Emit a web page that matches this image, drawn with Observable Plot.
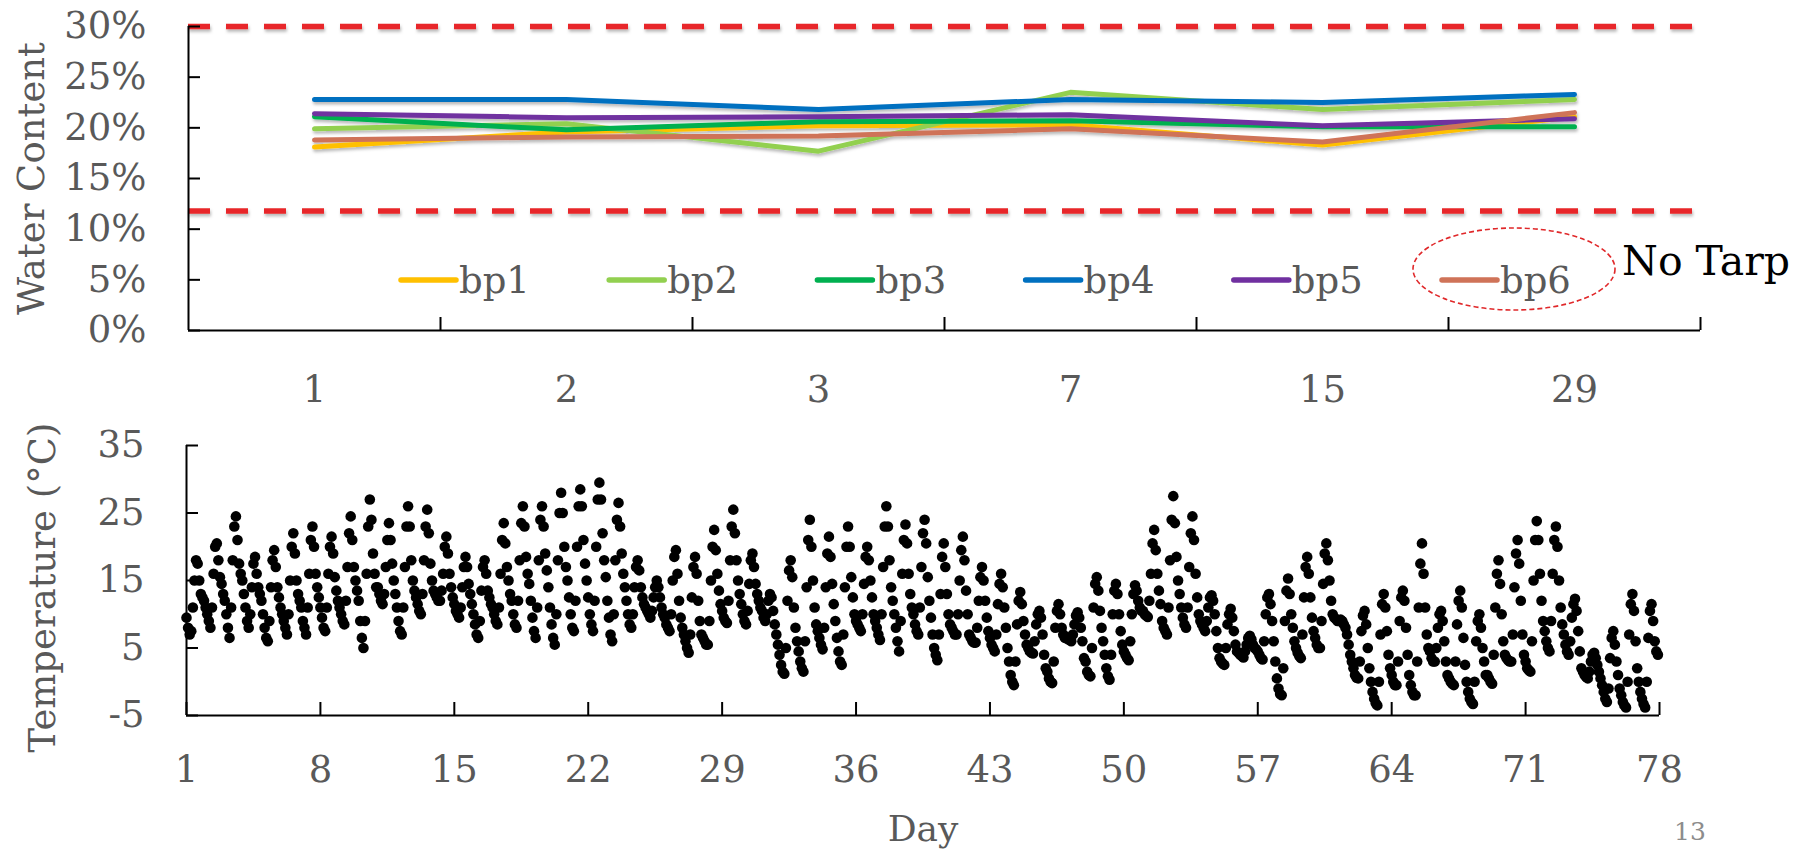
<!DOCTYPE html>
<html>
<head>
<meta charset="utf-8">
<script src="https://cdn.jsdelivr.net/npm/d3@7"></script>
<script src="https://cdn.jsdelivr.net/npm/@observablehq/plot@0.6"></script>
<style>
  html, body { margin: 0; padding: 0; background: #fff; }
  #page { position: relative; width: 1806px; height: 852px; overflow: hidden; font-family: "DejaVu Serif", serif; }
  #top, #bottom, #overlay { position: absolute; left: 0; }
  #top { top: 0; }
  #bottom { top: 420px; }
  #overlay { top: 0; pointer-events: none; }
</style>
</head>
<body>
<div id="page"><div id="top"></div><div id="bottom"></div><svg id="overlay" width="1806" height="852"></svg></div>
<script>
// ---------- Water content (top chart) ----------
const days = ["1", "2", "3", "7", "15", "29"];
const wcSeries = ["bp1", "bp2", "bp3", "bp4", "bp5", "bp6"];
const wcColors = ["#FFC000", "#92D050", "#00B050", "#0070C0", "#7030A0", "#CF7358"];
const bp1 = [0.181, 0.196, 0.202, 0.203, 0.183, 0.211];
const bp2 = [0.199, 0.204, 0.177, 0.235, 0.218, 0.228];
const bp3 = [0.211, 0.198, 0.206, 0.207, 0.201, 0.201];
const bp4 = [0.228, 0.228, 0.218, 0.228, 0.225, 0.233];
const bp5 = [0.214, 0.210, 0.211, 0.213, 0.202, 0.209];
const bp6 = [0.188, 0.191, 0.192, 0.199, 0.186, 0.215];
const wcLimits = [0.30, 0.118];
const wcTicks = [0, 0.05, 0.10, 0.15, 0.20, 0.25, 0.30];
const noTarpLabel = "No Tarp";

// ---------- Temperature (bottom chart) ----------
const dayTicks = [1, 8, 15, 22, 29, 36, 43, 50, 57, 64, 71, 78];
const tempTicks = [-5, 5, 15, 25, 35];
const readingHours = [0, 2, 4, 6, 8, 10, 12, 14, 16, 18, 20, 22];
const tempByDay = [
  [9.5, 8, 7, 7.5, 11, 15, 18, 17.5, 15, 13, 12.5, 12],
  [11, 10, 9, 8, 11, 16, 20, 20.5, 18, 15.5, 14.5, 13],
  [12, 10, 8, 6.5, 11, 18, 23, 24.5, 21, 17.5, 16, 15],
  [13, 11, 9, 8, 10, 14, 17.5, 18.5, 16, 14, 13, 12],
  [10, 8, 6.5, 6, 9, 14, 18, 19.5, 17, 14, 12.5, 11],
  [10, 9, 8, 7, 10, 15, 20, 22, 19, 15, 13, 12],
  [11, 9, 8, 7, 11, 16, 21, 23, 20, 16, 14, 12.5],
  [11, 9.5, 8, 7.5, 11, 16, 20, 21.5, 19, 15.5, 13.5, 12],
  [11, 10, 9, 8.5, 12, 17, 22, 24.5, 21, 17, 15, 13.5],
  [12, 9, 6.5, 5, 9, 16, 23, 27, 24, 19, 16, 14],
  [14, 13, 12, 11.5, 13, 17, 21, 23.5, 21, 17.5, 15, 13],
  [11, 9, 7.5, 7, 11, 17, 23, 26, 23, 18, 15, 13.5],
  [12.5, 11.5, 10.5, 10, 13, 18, 23, 25.5, 22, 17.5, 15, 13.5],
  [13, 12.5, 12, 12, 13.5, 16, 20, 21.5, 19, 16, 14, 12.5],
  [11.5, 10.5, 10, 9.5, 11, 14, 17, 18.5, 17, 14.5, 13, 11.5],
  [10, 8.5, 7, 6.5, 9, 13.5, 17, 18, 16, 13.5, 12.5, 11.5],
  [11, 10, 9, 8.5, 11, 16, 21, 23.5, 20.5, 17, 15, 13],
  [12, 10, 8.5, 8, 12, 18, 23.5, 26, 23, 18.5, 16, 14.5],
  [12, 9.5, 7.5, 6.5, 11, 18, 24, 26, 23, 19, 16.5, 14],
  [11, 8.5, 6.5, 5.5, 10, 18, 25, 28, 25, 20, 17, 15],
  [12.5, 10, 8, 7.5, 12, 20, 26, 28.5, 26, 21, 17.5, 15],
  [12.5, 10, 8.5, 7.5, 12, 20, 27, 29.5, 27, 22, 18, 15.5],
  [12, 9.5, 7, 6, 10, 18, 24, 26.5, 23, 19, 16, 14],
  [12, 10, 8.5, 8, 10, 14, 17, 18, 16.5, 14, 12.5, 11.5],
  [11, 10.5, 10, 9.5, 10.5, 12.5, 14, 15, 14, 12.5, 11, 10],
  [9.5, 8.5, 8, 7.5, 10, 15, 18.5, 19.5, 16, 12, 9.5, 8],
  [7, 6, 5, 4.3, 7, 12.5, 17, 18.5, 16, 12, 9, 7],
  [6.5, 6, 5.5, 5.5, 9, 15, 20, 22.5, 19.5, 16, 13.5, 11.5],
  [10.5, 9.5, 9, 8.7, 12, 18, 23, 25.5, 22, 18, 15, 13],
  [11.5, 10, 9, 8.5, 10.5, 14.5, 18, 19, 17, 14.5, 13, 12],
  [11, 10.5, 9.5, 9, 10, 12, 13, 12.5, 10.5, 8.5, 7, 5.5],
  [4, 2.5, 1.5, 1.2, 5, 12, 16.5, 18, 15.5, 11, 8, 6],
  [4.5, 3, 2, 1.5, 6, 14, 21, 24, 20, 15, 11, 8.5],
  [7.5, 6.5, 5.5, 4.8, 8, 14, 19, 21.5, 18.5, 14.5, 11.5, 9],
  [6.5, 4.5, 3, 2.5, 7, 14, 20, 23, 20, 15.5, 12.5, 10],
  [9, 8.5, 8, 7.5, 10, 14.5, 18.5, 20, 18, 15, 12.5, 10],
  [9, 8, 7, 6.2, 10, 17, 23, 26, 23, 18, 14, 12],
  [10, 8, 6, 4.5, 9, 16, 21, 23.3, 20.5, 16, 13, 11],
  [10, 8.5, 7.5, 7, 11, 17, 22, 24, 20.5, 15.5, 12, 9.5],
  [7, 5, 4, 3.2, 7, 13, 18.5, 20.5, 17, 13, 10, 8.5],
  [8, 7.5, 7, 7, 10, 15, 19.5, 21.5, 18, 13.5, 10, 7],
  [6.5, 6, 5.8, 5.8, 8, 12, 15.5, 17, 15, 12, 9.5, 7.5],
  [6.5, 5.5, 5, 4.5, 7, 11.5, 14.5, 16, 14, 11, 8, 5],
  [3, 1, 0, -0.5, 3, 8.5, 12, 13.3, 11.5, 9, 7, 5.5],
  [5, 4.5, 4.3, 4.2, 6, 8.5, 10, 10.5, 9.5, 7, 4, 2],
  [1.5, 0.5, 0, -0.2, 3, 8, 10.5, 11.5, 10, 8, 7, 6.5],
  [6.5, 6.3, 6.2, 6, 7, 8.5, 9.8, 10.3, 9.5, 8, 6, 3.5],
  [3, 1.5, 1, 0.8, 5, 11, 14.5, 15.5, 13.5, 10.5, 8, 6],
  [4, 2, 0.8, 0.3, 4, 10, 13.5, 14.5, 13, 10, 7.5, 5.5],
  [4.5, 4, 3.5, 3.2, 6, 10, 13, 14.3, 13.5, 12, 11, 10.5],
  [10.5, 10, 9.8, 9.6, 12, 16, 20.5, 22.5, 19.5, 16, 13.5, 11.5],
  [9, 8, 7.5, 7, 11, 18, 24, 27.5, 23.5, 18.5, 15, 13],
  [11, 9.5, 8.5, 8, 11, 17, 22, 24.5, 21, 16, 12.5, 10],
  [9, 8.5, 8, 7.5, 9, 11, 12.5, 12.8, 12, 10, 7.5, 5],
  [3.5, 3, 2.7, 2.5, 5, 8.5, 10, 10.8, 9.5, 7.5, 5.5, 4.5],
  [4.3, 4, 3.8, 3.6, 4.5, 5.5, 6.5, 6.8, 6.3, 5.5, 5, 4.8],
  [4.5, 4, 3.5, 3.3, 6, 10, 12.5, 13, 11.5, 9, 6, 3],
  [0.5, -1, -1.8, -2, 2, 9, 13.5, 15.3, 13, 10, 8, 6],
  [5, 4.3, 3.8, 3.5, 7, 12.5, 17, 18.5, 16, 12.5, 9.5, 7.5],
  [6.5, 5.5, 5, 5, 9, 14.5, 19, 20.5, 18, 15, 12, 10],
  [9.5, 9.3, 9, 9, 9.2, 9, 8.5, 8, 7, 5.5, 4, 3],
  [2, 1, 0.6, 0.5, 3, 7.5, 9.8, 10.5, 8.5, 5, 2, 0],
  [-1.5, -2.5, -3.2, -3.5, 0, 7, 11.5, 13, 11, 7.5, 4, 2],
  [1, 0, -0.5, -0.5, 3, 9, 12.5, 13.5, 12, 8, 4, 1],
  [-0.5, -1.5, -2, -2, 3, 11, 17.5, 20.5, 16, 11, 7, 5],
  [4.5, 3.5, 3, 3, 5, 8, 10, 10.5, 9, 6, 3, 1],
  [0.5, 0, -0.3, -0.5, 3, 8.5, 12, 13.5, 11, 6.5, 2.5, 0],
  [-1.5, -2.5, -3, -3.3, 0, 6, 9, 10, 8, 5, 3, 1],
  [1, 0.5, 0, -0.3, 4, 11, 16, 18, 14.5, 10, 6, 4],
  [3.5, 3.2, 3, 3, 7, 14, 19, 21, 17.5, 12, 7, 4],
  [3, 2, 1.7, 1.5, 6, 15, 21, 23.8, 21, 16, 12, 9],
  [7.5, 6, 5, 4.5, 9, 16, 21, 23, 20, 15, 11, 8.5],
  [7, 5.5, 4.5, 4, 6, 9.5, 11.5, 12.3, 10.5, 7.5, 4.5, 2],
  [1.5, 1, 0.7, 0.5, 1.5, 3, 4, 4.3, 3.5, 2.5, 1.5, 0.5],
  [-0.5, -1.5, -2.5, -3, -1, 3.5, 6.5, 7.5, 5.5, 3, 1, -1],
  [-2, -3, -3.5, -3.8, 0, 7, 11.5, 13, 10.5, 6, 2, 0],
  [-1.5, -2.5, -3.3, -3.8, 0, 6.5, 10.5, 11.5, 9, 6, 4.5, 4]
];

// ---------- tables built from the arrays ----------
const wcValues = {bp1, bp2, bp3, bp4, bp5, bp6};
const wcTable = wcSeries.flatMap(s => wcValues[s].map((v, k) => ({s, i: k + 1, v})));
const catIndex = days.map((_, k) => k + 1);
const catBounds = days.map((_, k) => k + 1.5);
const xDomainTop = [0.5, days.length + 0.5];
const tempTable = tempByDay.flatMap((arr, d) => arr.map((temp, h) => ({t: d + 1 + readingHours[h] / 24, temp})));
const xDomainBottom = [dayTicks[0], dayTicks[dayTicks.length - 1]];
const yDomainBottom = [tempTicks[0], tempTicks[tempTicks.length - 1]];

const FONT = "DejaVu Serif";
const GREY = "#595959";
const FS = 37;

const topChart = Plot.plot({
  width: 1806, height: 420,
  marginLeft: 188, marginRight: 106, marginTop: 26, marginBottom: 90,
  style: {fontFamily: FONT, fontSize: FS + "px", background: "none", overflow: "visible"},
  x: {type: "linear", domain: xDomainTop, label: null},
  y: {domain: [0, 0.30], label: null},
  color: {domain: wcSeries, range: wcColors},
  marks: [
    Plot.ruleY(wcLimits, {stroke: "#E8262A", strokeWidth: 5.5, strokeDasharray: "22 16", className: "shadowed"}),
    Plot.line(wcTable, {x: "i", y: "v", z: "s", stroke: "s", strokeWidth: 5, strokeLinejoin: "round", strokeLinecap: "round", className: "shadowed"}),
    Plot.ruleX([xDomainTop[0]], {stroke: "#000", strokeWidth: 2}),
    Plot.ruleY([0], {stroke: "#000", strokeWidth: 2}),
    Plot.axisY({ticks: wcTicks, tickSize: -12, tickPadding: 54, tickFormat: d3.format(".0%"), fontSize: FS, fill: GREY, stroke: "#000", strokeWidth: 2, label: null}),
    Plot.axisX({ticks: catBounds, tickSize: -13, tickFormat: () => "", stroke: "#000", strokeWidth: 2, label: null}),
    Plot.axisX({ticks: catIndex, tickSize: 0, tickPadding: 45, tickFormat: i => days[i - 1], fontSize: FS, fill: GREY, label: null}),
    Plot.text(["Water Content"], {text: d => d, frameAnchor: "left", dx: -156, rotate: -90, textAnchor: "middle", lineAnchor: "middle", fontSize: FS, fill: GREY})
  ]
});
document.getElementById("top").append(topChart);

// soft drop shadow like the original slide
const topSvg = d3.select(topChart.tagName.toLowerCase() === "svg" ? topChart : topChart.querySelector("svg"));
topSvg.insert("defs", ":first-child").html(
  '<filter id="soft" x="-5%" y="-50%" width="110%" height="200%"><feDropShadow dx="1" dy="2.5" stdDeviation="1.6" flood-color="#000" flood-opacity="0.28"/></filter>');
topSvg.selectAll(".shadowed").attr("filter", "url(#soft)");

const bottomChart = Plot.plot({
  width: 1806, height: 432,
  marginLeft: 186, marginRight: 147, marginTop: 25, marginBottom: 137,
  style: {fontFamily: FONT, fontSize: FS + "px", background: "none", overflow: "visible"},
  x: {domain: xDomainBottom, label: null},
  y: {domain: yDomainBottom, label: null},
  marks: [
    Plot.dot(tempTable, {x: "t", y: "temp", r: 5.3, fill: "#000"}),
    Plot.ruleX([xDomainBottom[0]], {stroke: "#000", strokeWidth: 2}),
    Plot.ruleY([yDomainBottom[0]], {stroke: "#000", strokeWidth: 2}),
    Plot.axisY({ticks: tempTicks, tickSize: -12, tickPadding: 54, tickFormat: d => String(d), fontSize: FS, fill: GREY, stroke: "#000", strokeWidth: 2, label: null}),
    Plot.axisX({ticks: dayTicks, tickSize: -13, tickPadding: 53, tickFormat: d => String(d), fontSize: FS, fill: GREY, stroke: "#000", strokeWidth: 2, label: null}),
    Plot.text(["Temperature (°C)"], {text: d => d, frameAnchor: "left", dx: -143, dy: 7, rotate: -90, textAnchor: "middle", lineAnchor: "middle", fontSize: FS, fill: GREY}),
    Plot.text(["Day"], {text: d => d, frameAnchor: "bottom", dy: 114, textAnchor: "middle", lineAnchor: "middle", fontSize: 36, fill: GREY})
  ]
});
document.getElementById("bottom").append(bottomChart);

// ---------- legend, annotation, page number ----------
const ov = d3.select("#overlay").style("font-family", FONT);
const legendY = 280, legendX0 = 401, legendStep = 208.2, swatchLen = 55;
wcSeries.forEach((s, k) => {
  const x = legendX0 + k * legendStep;
  ov.append("line").attr("x1", x).attr("x2", x + swatchLen).attr("y1", legendY).attr("y2", legendY)
    .attr("stroke", wcColors[k]).attr("stroke-width", 5.5).attr("stroke-linecap", "round");
  ov.append("text").attr("x", x + swatchLen + 3).attr("y", legendY + 13).attr("font-size", FS)
    .attr("fill", GREY).text(s);
});
ov.append("ellipse").attr("cx", 1514).attr("cy", 269).attr("rx", 101).attr("ry", 41)
  .attr("fill", "none").attr("stroke", "#E0282A").attr("stroke-width", 1.6).attr("stroke-dasharray", "5 3");
ov.append("text").attr("x", 1622).attr("y", 275).attr("font-size", 41).attr("fill", "#000").text(noTarpLabel);
ov.append("text").attr("x", 1690).attr("y", 840).attr("font-size", 25).attr("text-anchor", "middle")
  .attr("fill", "#8c8c8c").text("13");
</script>
</body>
</html>
